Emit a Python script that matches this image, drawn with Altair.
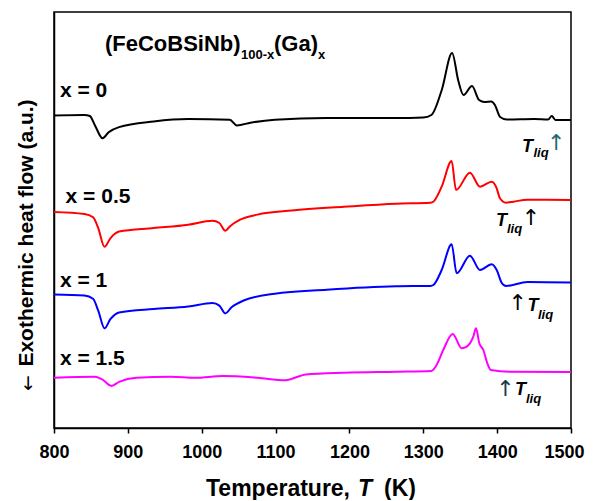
import altair as alt
import pandas as pd

# ---------------- data ----------------
series_names = ["x = 0", "x = 0.5", "x = 1", "x = 1.5"]
series_colors = ["#000000", "#ff0000", "#0000ff", "#ff00ff"]

T_x0 = [800, 841, 848.5, 855.5, 865.8, 874, 888, 935, 982, 1038, 1047.6, 1066, 1099, 1169, 1263,
        1300, 1311, 1325, 1339, 1347.5, 1354.5, 1366, 1375.5, 1383, 1392, 1397, 1404, 1413,
        1450, 1469, 1474, 1479, 1500]
HF_x0 = [312.5, 313, 312, 302.6, 289.7, 295.8, 300.9, 306.6, 309, 308.3, 302.6, 305.3, 308.3, 310, 310,
         310.5, 313, 338, 375, 347, 333, 342, 328, 326, 326.5, 323, 311, 308.5,
         309, 308.5, 312, 308, 308]

T_x05 = [800, 841.2, 852.9, 859.9, 868.4, 876.3, 888.1, 934.9, 981.7, 1014.5, 1023.9, 1031.9, 1038,
         1052, 1075.5, 1122.3, 1192.6, 1262.9, 1309.7, 1313.6, 1324.9, 1338.4, 1344.3, 1363.2,
         1376.8, 1392.6, 1399.4, 1403.8, 1412, 1421.9, 1441, 1500]
HF_x05 = [216.1, 214.1, 210.7, 199.9, 181.2, 189.7, 196.5, 199.9, 203.3, 207.3, 205, 197.2, 201.6,
          208.3, 213.4, 217.5, 221.2, 224.3, 225.3, 226.3, 241.3, 267, 238, 255.3,
          241.3, 246.3, 239.7, 229.7, 225.3, 226.3, 228.3, 228]

T_x1 = [800, 841.2, 852.9, 859.9, 868.4, 876.3, 888.1, 934.9, 981.7, 1014.5, 1023.9, 1031.9, 1040.4,
        1056.8, 1099, 1169.3, 1262.9, 1309.7, 1313.6, 1324.9, 1338.4, 1345.2, 1363.2, 1376.8,
        1392.6, 1399.4, 1406.1, 1412, 1441, 1500]
HF_x1 = [133.6, 132.6, 129.2, 117.3, 99.7, 108.8, 115.6, 119, 121.4, 125.1, 122.4, 114.6, 120.7,
         127.5, 134.3, 138.3, 141.7, 142.1, 143, 158, 183.7, 154.7, 172.3, 158,
         163.7, 158, 145.3, 142, 146.1, 145.5]

T_x15 = [800, 855.4, 864.7, 877.9, 888.1, 911.5, 958.4, 991.2, 1028.7, 1075.5, 1113, 1141.1, 1192.6,
         1262.9, 1311, 1318, 1327, 1339.8, 1352, 1358.8, 1367.7, 1371.4, 1375.9, 1381.3, 1386.7,
         1391.3, 1417.4, 1500]
HF_x15 = [50.2, 51.2, 48.8, 42.1, 46.1, 50.2, 51.2, 50.2, 51.9, 50.2, 47.8, 53.6, 55.3,
          56.3, 57, 63, 78, 94, 79.7, 81.3, 91.3, 99.7, 84.7, 78, 64.7,
          58, 56.3, 56]

# annotation texts
label_texts = ["x = 0", "x = 0.5", "x = 1", "x = 1.5"]
label_T = [808, 815.7, 808, 808]
label_v = [331, 225.3, 141, 63]

formula_texts = ["(FeCoBSiNb)", "100-x", "(Ga)", "x"]
formula_T = [869, 1053.2, 1097.9, 1157.4]
formula_v = [377, 368.7, 377, 368.7]
formula_size = [22, 13, 22, 13]

tliq_texts = ["T", "liq"] * 4
tliq_T = [1433.6, 1449.2, 1398.4, 1413.3, 1441, 1455.3, 1424.2, 1439]
tliq_v = [276.1, 271, 201.6, 194.8, 117.3, 109.5, 33.3, 24.8]
tliq_size = [18, 13] * 4

arrow_T = [1480, 1445.8, 1427.7, 1411.3]
arrow_v = [285, 209.7, 125, 39.4]
arrow_colors = ["#1f6a70", "#000000", "#000000", "#1a3a4a"]

x_ticks = list(range(800, 1501, 50))

FONT = "Liberation Sans"
ARROW_FONT = "DejaVu Sans"

# ---------------- tables ----------------
rows = []
for name, ts, vs in zip(series_names, [T_x0, T_x05, T_x1, T_x15], [HF_x0, HF_x05, HF_x1, HF_x15]):
    for t, v in zip(ts, vs):
        rows.append({"series": name, "T": t, "v": v})
df = pd.DataFrame(rows)

labels_df = pd.DataFrame({"text": label_texts, "T": label_T, "v": label_v})
formula_df = pd.DataFrame({"text": formula_texts, "T": formula_T, "v": formula_v, "fs": formula_size})
tliq_df = pd.DataFrame({"text": tliq_texts, "T": tliq_T, "v": tliq_v, "fs": tliq_size})
arrow_df = pd.DataFrame({"text": ["\u2191"] * 4, "T": arrow_T, "v": arrow_v, "c": arrow_colors})

x_scale = alt.Scale(domain=[800, 1500], nice=False)
y_scale = alt.Scale(domain=[0, 416], nice=False, zero=False)

x_axis = alt.Axis(values=x_ticks, format="d",
                  labelExpr="datum.value % 100 == 0 ? datum.label : ''",
                  labelFlush=False, labelOverlap=False,
                  labelOffset={"condition": {"test": "datum.value == 1500", "value": -7}, "value": 0},
                  tickSize=5, tickWidth=1.5, tickColor="black",
                  domainColor="black", domainWidth=1.5,
                  labelPadding=10, labelFontSize=18, labelFont=FONT, labelFontWeight="bold",
                  labelColor="black", grid=False, title=None)
y_axis = alt.Axis(labels=False, ticks=False, grid=False, domainColor="black", domainWidth=1.5,
                  title=None)

lines = alt.Chart(df).mark_line(strokeWidth=2, interpolate="monotone").encode(
    x=alt.X("T:Q", scale=x_scale, axis=x_axis),
    y=alt.Y("v:Q", scale=y_scale, axis=y_axis),
    color=alt.Color("series:N", scale=alt.Scale(domain=series_names, range=series_colors), legend=None),
)

labels = alt.Chart(labels_df).mark_text(align="left", baseline="alphabetic", font=FONT,
                                        fontWeight="bold", fontSize=21, color="black").encode(
    x=alt.X("T:Q", scale=x_scale), y=alt.Y("v:Q", scale=y_scale), text="text:N")

formula = alt.Chart(formula_df).mark_text(align="left", baseline="alphabetic", font=FONT,
                                          fontWeight="bold", color="black").encode(
    x=alt.X("T:Q", scale=x_scale), y=alt.Y("v:Q", scale=y_scale), text="text:N",
    size=alt.Size("fs:Q", scale=None, legend=None))

tliq = alt.Chart(tliq_df).mark_text(align="left", baseline="alphabetic", font=FONT,
                                    fontWeight="bold", fontStyle="italic", color="black").encode(
    x=alt.X("T:Q", scale=x_scale), y=alt.Y("v:Q", scale=y_scale), text="text:N",
    size=alt.Size("fs:Q", scale=None, legend=None))

arrows = alt.Chart(arrow_df).mark_text(align="center", baseline="middle", font=ARROW_FONT,
                                       fontWeight="normal", fontSize=22).encode(
    x=alt.X("T:Q", scale=x_scale), y=alt.Y("v:Q", scale=y_scale), text="text:N",
    color=alt.Color("c:N", scale=None, legend=None))

# x axis title (with italic T)
xt1 = alt.Chart(pd.DataFrame({"t": ["Temperature,"]})).mark_text(
    align="left", baseline="alphabetic", font=FONT, fontWeight="bold", fontSize=23, color="black"
).encode(x=alt.value(152), y=alt.value(484), text="t:N")
xt2 = alt.Chart(pd.DataFrame({"t": ["T"]})).mark_text(
    align="left", baseline="alphabetic", font=FONT, fontWeight="bold", fontStyle="italic",
    fontSize=23, color="black"
).encode(x=alt.value(304), y=alt.value(484), text="t:N")
xt3 = alt.Chart(pd.DataFrame({"t": ["(K)"]})).mark_text(
    align="left", baseline="alphabetic", font=FONT, fontWeight="bold", fontSize=23, color="black"
).encode(x=alt.value(330), y=alt.value(484), text="t:N")

# y axis title (rotated), arrow drawn with a font that has a full-size arrow glyph
yt1 = alt.Chart(pd.DataFrame({"t": ["Exothermic heat flow (a.u.)"]})).mark_text(
    align="center", baseline="middle", angle=270, font=FONT, fontWeight="bold", fontSize=21,
    color="black"
).encode(x=alt.value(-27), y=alt.value(221), text="t:N")
yt2 = alt.Chart(pd.DataFrame({"t": ["\u2190"]})).mark_text(
    align="center", baseline="middle", angle=270, font=ARROW_FONT, fontWeight="normal",
    fontSize=19, color="black"
).encode(x=alt.value(-26), y=alt.value(371), text="t:N")

chart = alt.layer(lines, labels, formula, tliq, arrows, xt1, xt2, xt3, yt1, yt2).properties(
    width=517, height=416,
    autosize=alt.AutoSizeParams(type="none"),
    padding={"left": 46, "top": 4, "right": 14, "bottom": 72},
    background="white",
).configure_view(stroke="black", strokeWidth=1.5)

chart.save("out.html", embed_options={"renderer": "svg", "actions": False})
